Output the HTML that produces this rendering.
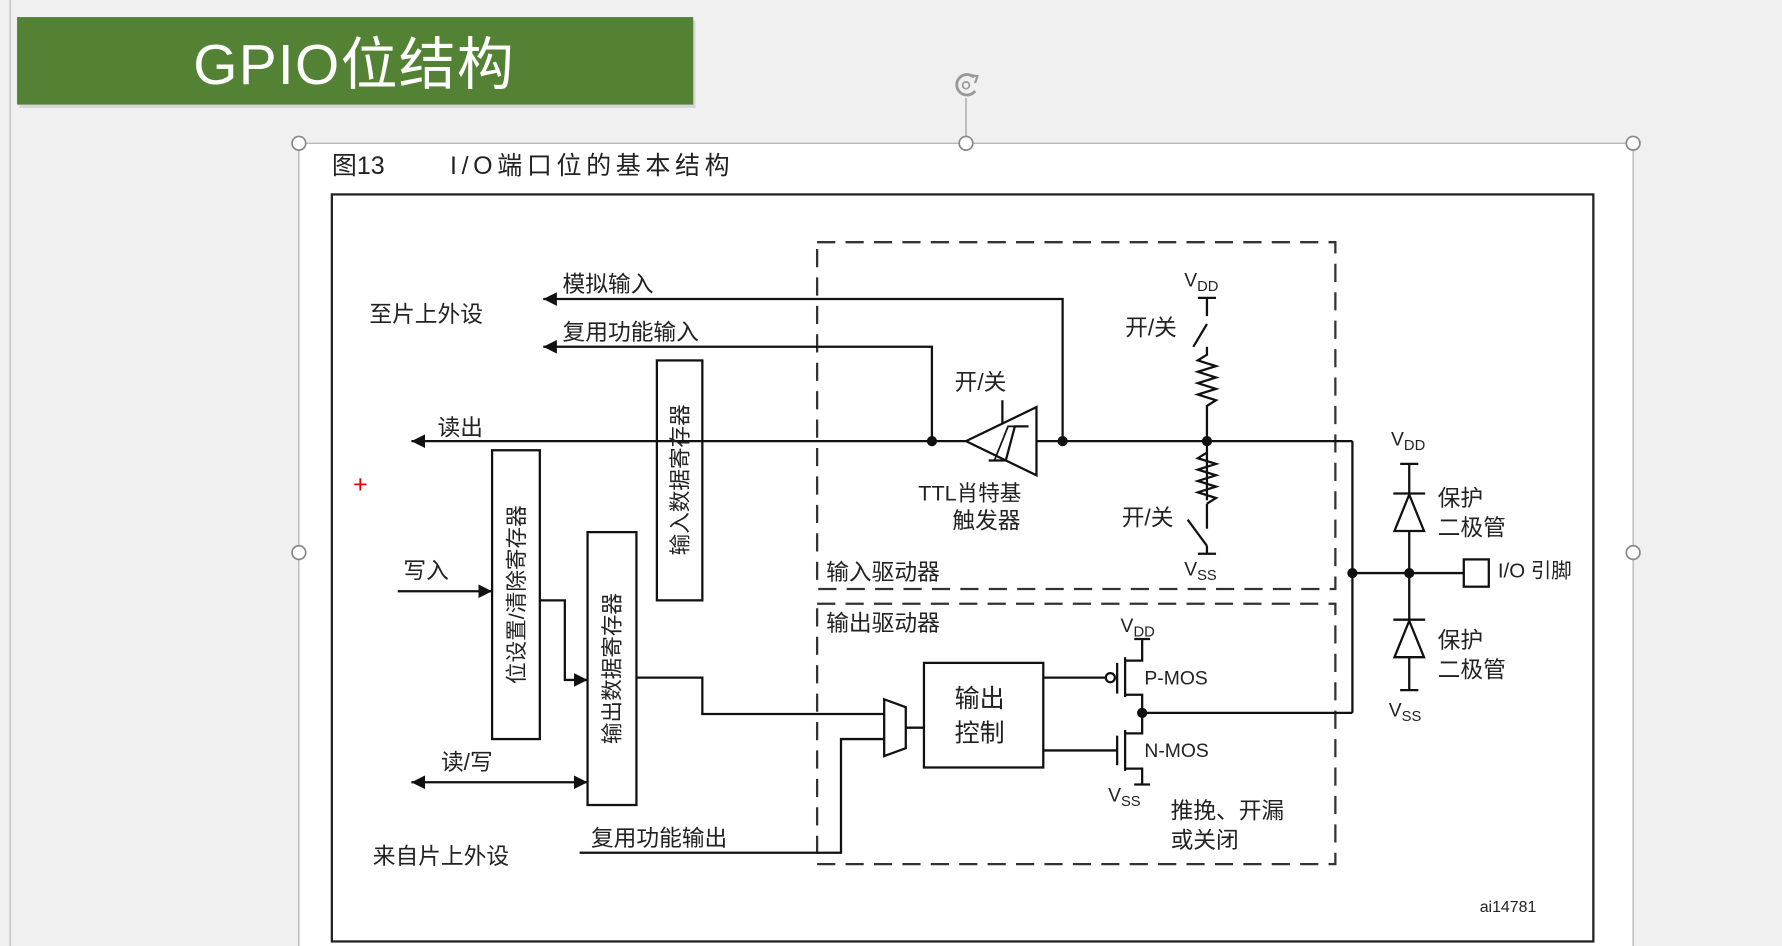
<!DOCTYPE html>
<html><head><meta charset="utf-8"><style>
html,body{margin:0;padding:0;background:#f0f0f0;}
svg{display:block;}
text{font-family:"Liberation Sans","Noto Sans CJK SC",sans-serif;fill:#222;}
</style></head><body>
<svg width="1782" height="946" viewBox="0 0 1568 832" preserveAspectRatio="none" xmlns="http://www.w3.org/2000/svg">
<defs>
<marker id="ah" viewBox="0 0 10 10" refX="10" refY="5" markerWidth="12" markerHeight="12" markerUnits="userSpaceOnUse" orient="auto"><path d="M0,0 L10,5 L0,10 z" fill="#111"/></marker>
<marker id="ahs" viewBox="0 0 10 10" refX="10" refY="5" markerWidth="12" markerHeight="12" markerUnits="userSpaceOnUse" orient="auto-start-reverse"><path d="M0,0 L10,5 L0,10 z" fill="#111"/></marker>
</defs>
<rect width="1568" height="832" fill="#f0f0f0"/>
<line x1="9" y1="0" x2="9" y2="832" stroke="#c8c8c8" stroke-width="1.5"/>
<rect x="17" y="18" width="595" height="77" fill="#bbb" opacity="0.5"/>
<rect x="15" y="15" width="595" height="77" fill="#548235"/>
<text x="170" y="74" font-size="50" textLength="282" style="fill:#fff">GPIO位结构</text>
<!-- rotate handle -->
<path d="M857,68 A9,9 0 1 0 858,80" fill="none" stroke="#999" stroke-width="2.5"/>
<path d="M853,66 L860,67 L858,73" fill="none" stroke="#999" stroke-width="2"/>
<circle cx="850" cy="75" r="3" fill="none" stroke="#999" stroke-width="1.5"/>
<line x1="850" y1="86" x2="850" y2="120" stroke="#999"/>
<!-- picture frame -->
<rect x="263" y="126" width="1174" height="720" fill="#fff" stroke="#aaa" stroke-width="1"/>
<g fill="#fff" stroke="#888" stroke-width="1.5">
<circle cx="263" cy="126" r="6"/><circle cx="850" cy="126" r="6"/><circle cx="1437" cy="126" r="6"/>
<circle cx="263" cy="486" r="6"/><circle cx="1437" cy="486" r="6"/>
</g>
<text x="292" y="153" font-size="22">图13</text>
<text x="396" y="153" font-size="22" textLength="246">I/O端口位的基本结构</text>
<rect x="292" y="171" width="1110" height="657" fill="none" stroke="#222" stroke-width="2"/>
<g fill="none" stroke="#333" stroke-width="2" stroke-dasharray="16,9">
<rect x="719" y="213" width="456" height="305"/>
<rect x="719" y="531" width="456" height="229"/>
</g>
<g stroke="#111" stroke-width="2" fill="none">
<polyline points="935,388 935,263 478,263" marker-end="url(#ah)"/>
<polyline points="820,388 820,305 478,305" marker-end="url(#ah)"/>
<line x1="850" y1="388" x2="362" y2="388" marker-end="url(#ah)"/>
<line x1="912" y1="388" x2="1190" y2="388"/>
<polygon points="850,388 912,358 912,418" fill="#fff"/>
<polyline points="870,405 885,405 893,375 905,375"/>
<polyline points="875,405 887,375 897,375" stroke-width="1.5"/>
<line x1="882" y1="352" x2="882" y2="373"/>
<line x1="1054" y1="262" x2="1070" y2="262"/>
<line x1="1062" y1="262" x2="1062" y2="278"/>
<line x1="1062" y1="285" x2="1050" y2="305"/>
<polyline points="1062,305 1062,312 1054,317 1070,322 1054,327 1070,332 1054,337 1070,342 1054,347 1070,352 1062,357 1062,440"/>
<polyline points="1062,398 1054,403 1070,408 1054,413 1070,418 1054,423 1070,428 1054,433 1070,438 1062,443"/>
<line x1="1062" y1="443" x2="1062" y2="465"/>
<line x1="1045" y1="457" x2="1062" y2="480"/>
<line x1="1062" y1="480" x2="1062" y2="487"/>
<line x1="1054" y1="487" x2="1070" y2="487"/>
<line x1="1190" y1="388" x2="1190" y2="627"/>
<line x1="1190" y1="504" x2="1288" y2="504"/>
<rect x="1288" y="492" width="22" height="24" fill="#fff"/>
<line x1="1232" y1="408" x2="1248" y2="408"/>
<line x1="1240" y1="408" x2="1240" y2="607"/>
<line x1="1226" y1="434" x2="1254" y2="434"/>
<polygon points="1240,435 1227,467 1253,467" fill="#fff"/>
<line x1="1226" y1="545" x2="1254" y2="545"/>
<polygon points="1240,546 1227,578 1253,578" fill="#fff"/>
<line x1="1232" y1="607" x2="1248" y2="607"/>
<rect x="813" y="583" width="105" height="92"/>
<line x1="918" y1="596" x2="973" y2="596"/>
<circle cx="977" cy="596" r="4" fill="#fff"/>
<line x1="983" y1="583" x2="983" y2="610"/>
<line x1="990" y1="578" x2="990" y2="613"/>
<polyline points="990,581 1005,581 1005,562"/>
<line x1="998" y1="562" x2="1012" y2="562"/>
<polyline points="990,611 1005,611 1005,645 990,645"/>
<line x1="1005" y1="627" x2="1190" y2="627"/>
<line x1="918" y1="660" x2="983" y2="660"/>
<line x1="983" y1="647" x2="983" y2="673"/>
<line x1="990" y1="642" x2="990" y2="678"/>
<polyline points="990,676 1005,676 1005,690"/>
<line x1="998" y1="690" x2="1012" y2="690"/>
<polygon points="778,615 797,622 797,658 778,665" fill="#fff"/>
<line x1="797" y1="640" x2="813" y2="640"/>
<polyline points="560,596 618,596 618,628 778,628"/>
<polyline points="510,750 740,750 740,650 778,650"/>
<rect x="578" y="317" width="40" height="211" fill="#fff"/>
<rect x="433" y="396" width="42" height="254" fill="#fff"/>
<rect x="517" y="468" width="43" height="240" fill="#fff"/>
<line x1="350" y1="520" x2="433" y2="520" marker-end="url(#ah)"/>
<polyline points="475,528 497,528 497,598 517,598" marker-end="url(#ah)"/>
<line x1="362" y1="688" x2="517" y2="688" marker-start="url(#ahs)" marker-end="url(#ah)"/>
</g>
<line x1="578" y1="388" x2="618" y2="388" stroke="#111" stroke-width="2"/>
<g fill="#111">
<circle cx="820" cy="388" r="4.5"/><circle cx="935" cy="388" r="4.5"/><circle cx="1062" cy="388" r="4.5"/>
<circle cx="1190" cy="504" r="4.5"/><circle cx="1240" cy="504" r="4.5"/><circle cx="1005" cy="627" r="4.5"/>
</g>
<g font-size="20">
<text x="495" y="257">模拟输入</text>
<text x="495" y="299">复用功能输入</text>
<text x="325" y="283">至片上外设</text>
<text x="385" y="383">读出</text>
<text x="355" y="509">写入</text>
<text x="388" y="677">读/写</text>
<text x="328" y="760">来自片上外设</text>
<text x="520" y="744">复用功能输出</text>
<text x="840" y="343">开/关</text>
<text x="808" y="440" font-size="19">TTL肖特基</text>
<text x="838" y="465">触发器</text>
<text x="990" y="295">开/关</text>
<text x="987" y="462">开/关</text>
<text x="727" y="510">输入驱动器</text>
<text x="727" y="555">输出驱动器</text>
<text x="840" y="622" font-size="22">输出</text>
<text x="840" y="652" font-size="22">控制</text>
<text x="1030" y="720">推挽、开漏</text>
<text x="1030" y="746">或关闭</text>
<text x="1265" y="445">保护</text>
<text x="1265" y="471">二极管</text>
<text x="1265" y="570">保护</text>
<text x="1265" y="596">二极管</text>
<text x="1318" y="508" font-size="18">I/O 引脚</text>
</g>
<g font-size="17">
<text x="1042" y="252">V<tspan font-size="13" dy="4">DD</tspan></text>
<text x="1042" y="506">V<tspan font-size="13" dy="4">SS</tspan></text>
<text x="1224" y="392">V<tspan font-size="13" dy="4">DD</tspan></text>
<text x="1222" y="630">V<tspan font-size="13" dy="4">SS</tspan></text>
<text x="986" y="556">V<tspan font-size="13" dy="4">DD</tspan></text>
<text x="975" y="705">V<tspan font-size="13" dy="4">SS</tspan></text>
<text x="1007" y="602">P-MOS</text>
<text x="1007" y="666">N-MOS</text>
</g>
<text x="1302" y="802" font-size="14">ai14781</text>
<g font-size="19">
<text transform="translate(598,422) rotate(-90)" text-anchor="middle" dy="7">输入数据寄存器</text>
<text transform="translate(454,523) rotate(-90)" text-anchor="middle" dy="7">位设置/清除寄存器</text>
<text transform="translate(538,588) rotate(-90)" text-anchor="middle" dy="7">输出数据寄存器</text>
</g>
<text x="317" y="433" font-size="22" text-anchor="middle" style="fill:#e00">+</text>
</svg>
</body></html>
